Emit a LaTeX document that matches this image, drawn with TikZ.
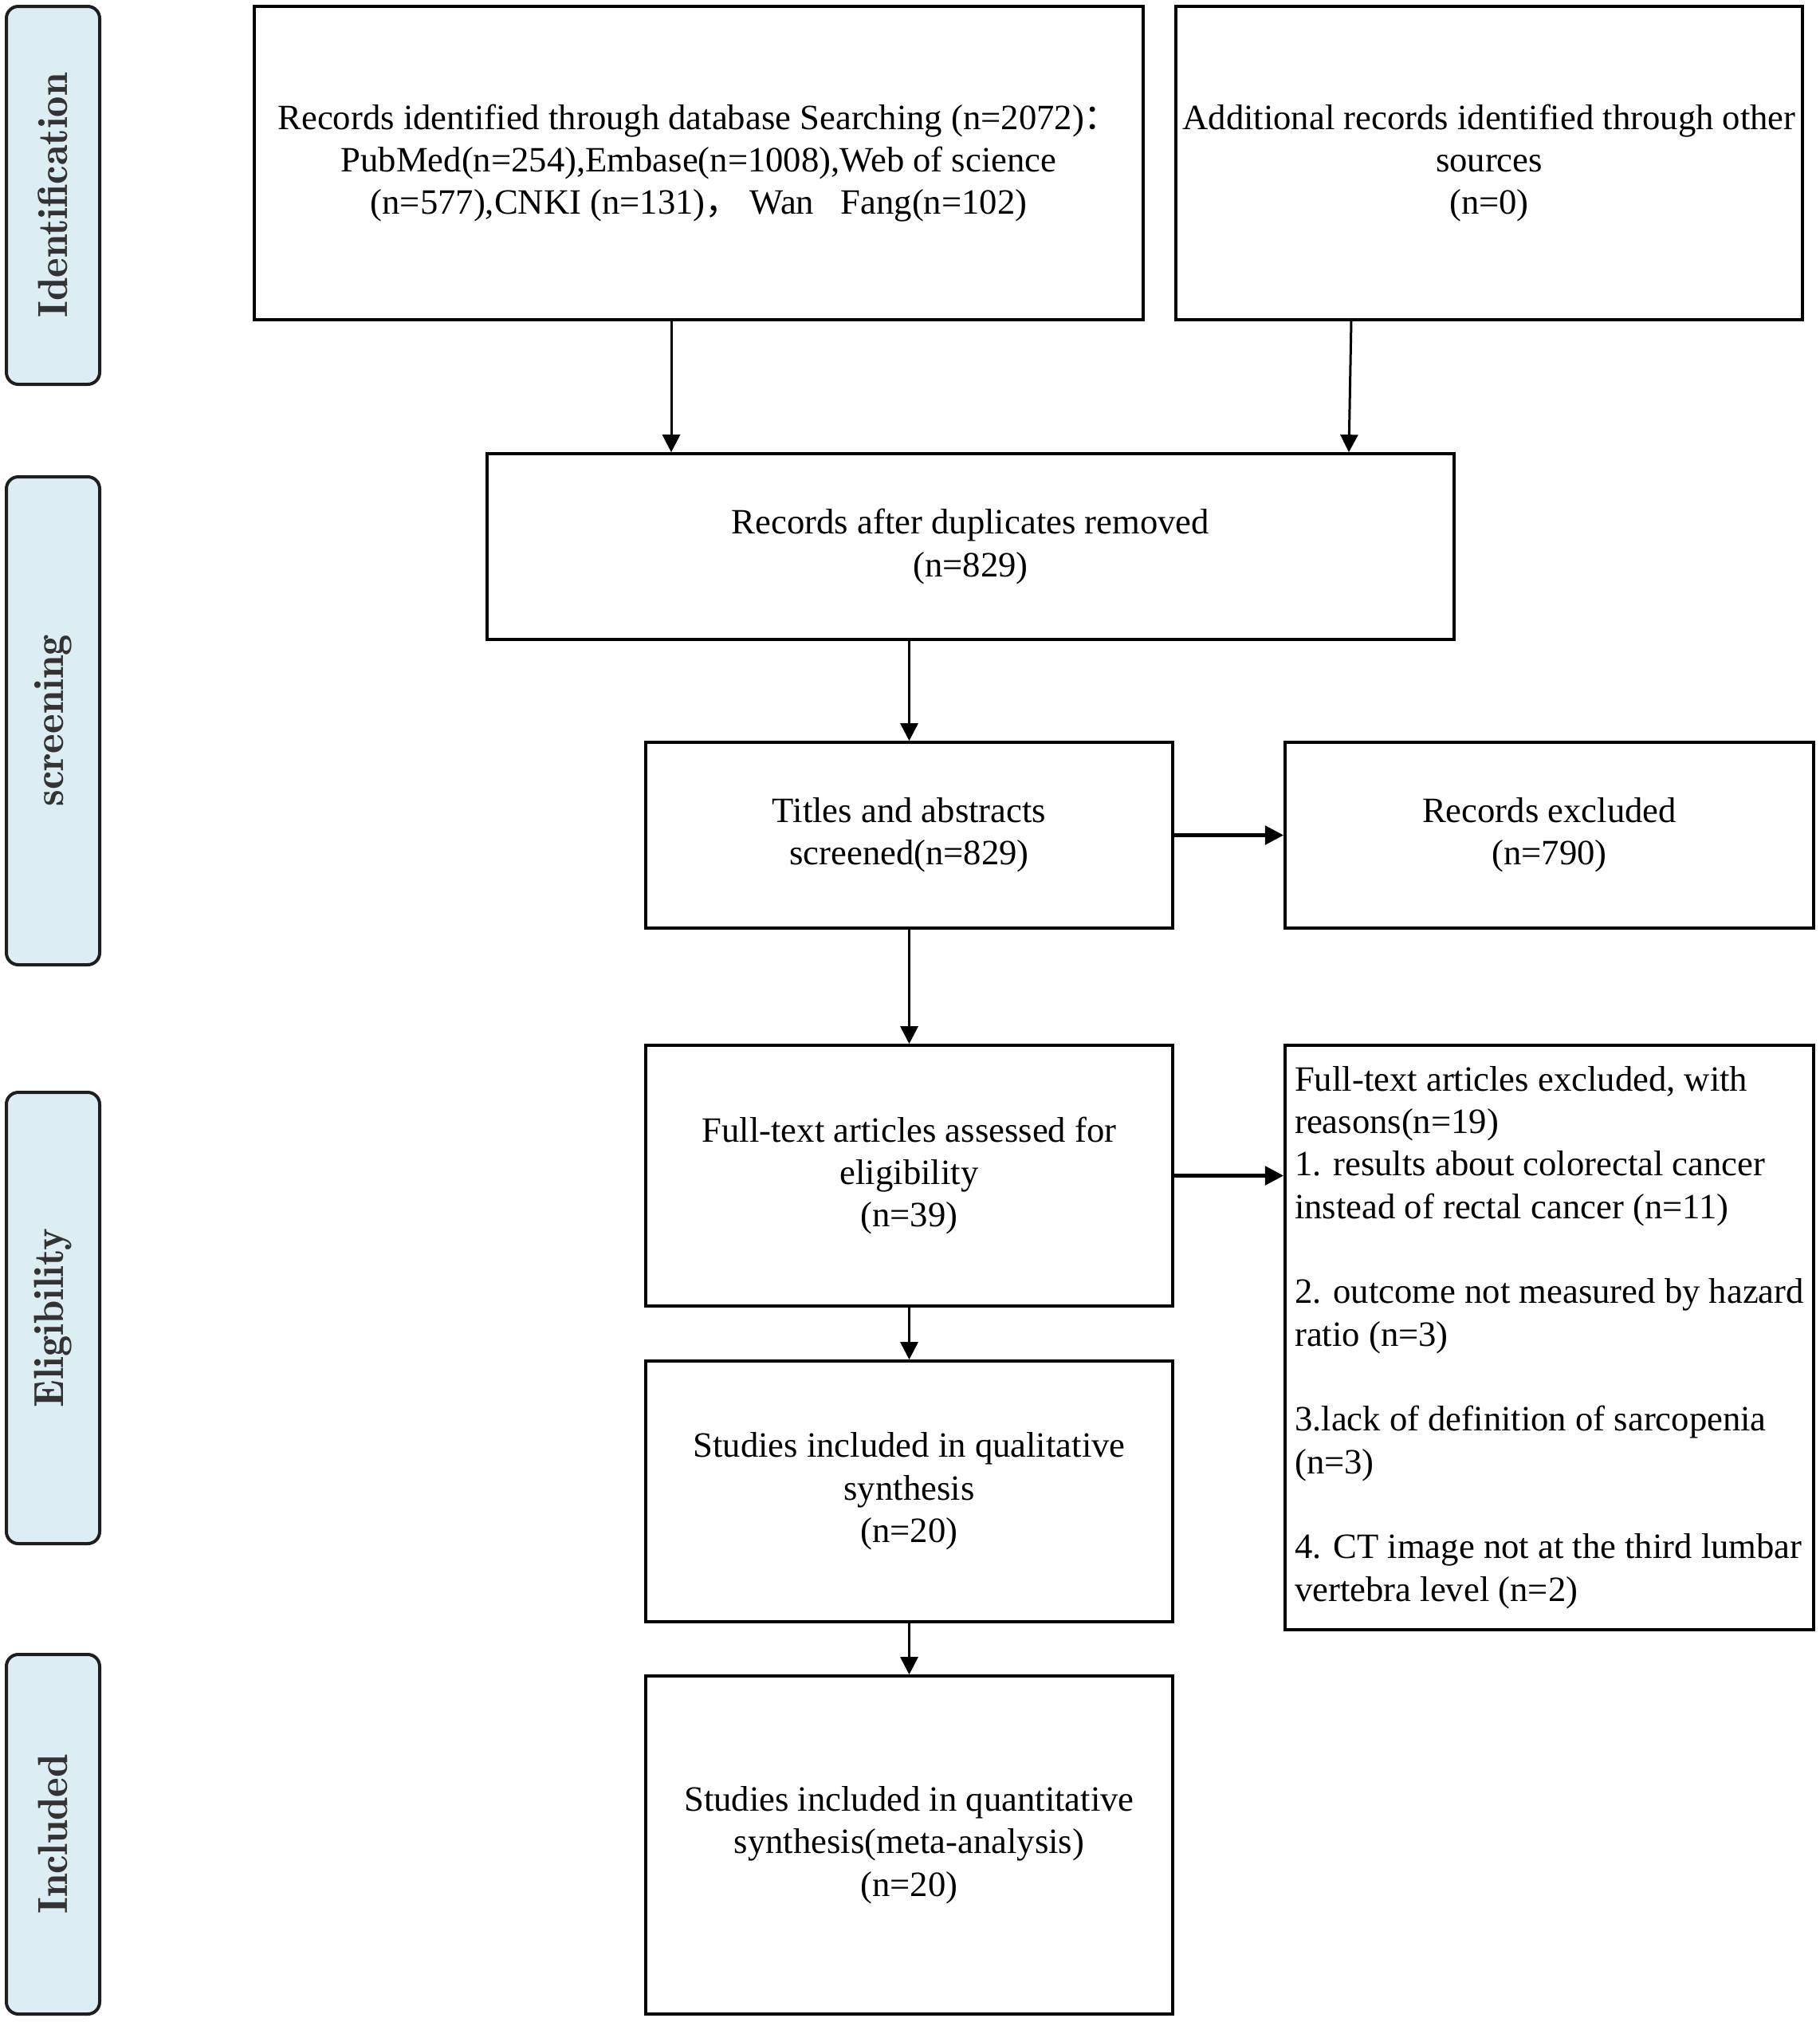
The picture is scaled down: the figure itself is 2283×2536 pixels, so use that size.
\documentclass[tikz,border=0pt]{standalone}
\usepackage{fontspec}
\setmainfont{Liberation Serif}
\newfontfamily\cjk{Noto Sans CJK SC}
\newfontfamily\lmfont{Latin Modern Roman Demi}
\usetikzlibrary{arrows.meta}
\definecolor{lblfill}{RGB}{220,238,244}
\definecolor{lblline}{RGB}{30,30,30}
\begin{document}
\begin{tikzpicture}[x=0.3pt,y=-0.3pt,
  box/.style={draw=black, line width=1.1pt, inner sep=0pt, align=center,
    font=\fontsize{13.4pt}{16pt}\selectfont},
  lbl/.style={draw=lblline, line width=1.2pt, fill=lblfill, rounded corners=4.5pt,
    rotate=90, inner sep=0pt, minimum height=35.1pt,
    font=\lmfont\fontsize{15.8pt}{18pt}\selectfont, text=black!80},
  arr/.style={line width=0.9pt, -{Triangle[width=6.6pt,length=6.6pt]}},
  arrthick/.style={line width=1.4pt, -{Triangle[width=7pt,length=7pt]}}
]
\useasboundingbox (0,0) rectangle (2283,2536);

% side labels
\node[lbl, minimum width=142.2pt] (L1) at (66.5,245) {Identification};
\node[lbl, minimum width=183.6pt] (L2) at (66.5,904) {screening};
\node[lbl, minimum width=169.8pt] (L3) at (66.5,1653) {Eligibility};
\node[lbl, minimum width=135.3pt] (L4) at (66.5,2300.5) {Included};

% boxes
\node[box, minimum width=334.5pt, minimum height=117.9pt] (A) at (876.5,204.5)
  {Records identified through database Searching (n=2072){\cjk ：}\\
   PubMed(n=254),Embase(n=1008),Web of science\\
   (n=577),CNKI (n=131){\cjk ，}\ Wan\hspace{0.75em}Fang(n=102)};
\node[box, minimum width=235.8pt, minimum height=117.9pt] (B) at (1868,204.5)
  {Additional records identified through other\\ sources\\ (n=0)};
\node[box, minimum width=363.9pt, minimum height=69.9pt] (C) at (1217.5,685.5)
  {Records after duplicates removed\\ (n=829)};
\node[box, minimum width=198.3pt, minimum height=69.9pt] (D) at (1140.5,1047.5)
  {Titles and abstracts\\ screened(n=829)};
\node[box, minimum width=198.9pt, minimum height=69.9pt] (E) at (1943.5,1047.5)
  {Records excluded\\ (n=790)};
\node[box, minimum width=198.3pt, minimum height=98.1pt] (F) at (1140.5,1474.5)
  {Full-text articles assessed for\\ eligibility\\ (n=39)};
\node[box, minimum width=198.9pt, minimum height=219.9pt, align=left] (G) at (1943.5,1677.5)
  {Full-text articles excluded, with\\
   reasons(n=19)\\
   1. results about colorectal cancer\\
   instead of rectal cancer (n=11)\\[16pt]
   2. outcome not measured by hazard\\
   ratio (n=3)\\[16pt]
   3.lack of definition of sarcopenia\\
   (n=3)\\[16pt]
   4. CT image not at the third lumbar\\
   vertebra level (n=2)};
\node[box, minimum width=198.3pt, minimum height=98.1pt] (H) at (1140.5,1870.5)
  {Studies included in qualitative\\ synthesis\\ (n=20)};
\node[box, minimum width=198.3pt, minimum height=127.2pt] (I) at (1140.5,2314)
  {Studies included in quantitative\\ synthesis(meta-analysis)\\ (n=20)};

% helper coordinates for arrow columns
\coordinate (xa) at (842,0);
\coordinate (xb1) at (1695,0);
\coordinate (xb2) at (1692,0);

% connectors
\draw[arr] (A.south -| xa) -- (C.north -| xa);
\draw[arr] (B.south -| xb1) -- (C.north -| xb2);
\draw[arr] (C.south -| D.north) -- (D.north);
\draw[arrthick] (D.east) -- (E.west);
\draw[arr] (D.south) -- (F.north);
\draw[arrthick] (F.east) -- (F.east -| G.west);
\draw[arr] (F.south) -- (H.north);
\draw[arr] (H.south) -- (I.north);
\end{tikzpicture}
\end{document}
